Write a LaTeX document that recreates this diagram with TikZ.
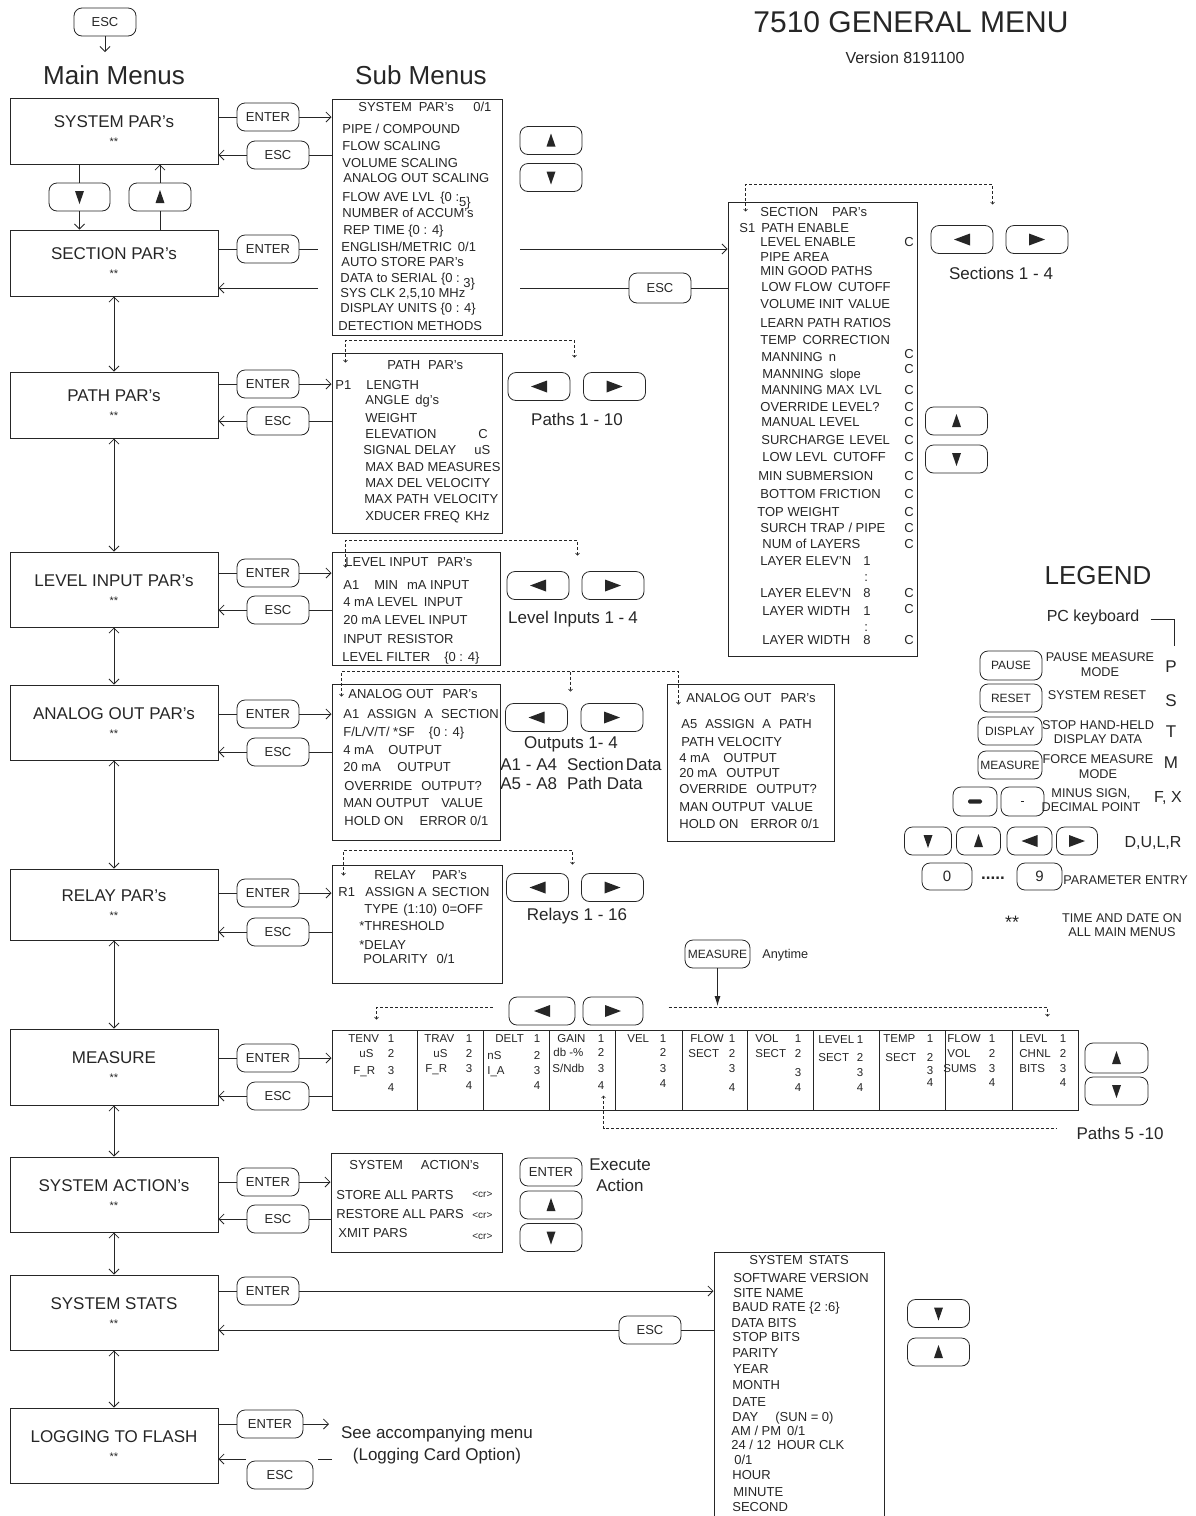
\documentclass[tikz,border=0pt]{standalone}
\usepackage{fontspec}
\setmainfont{Liberation Sans}
\usetikzlibrary{arrows.meta, positioning}

\newcommand\fntTitle{\fontsize{30}{34}\selectfont}
\newcommand\fntHead{\fontsize{26}{30}\selectfont}
\newcommand\fntMain{\fontsize{17}{18}\selectfont}
\newcommand\fntStar{\fontsize{11}{18}\selectfont}
\newcommand\fntKey{\fontsize{13}{15}\selectfont}
\newcommand\fntSub{\fontsize{13}{15}\selectfont}
\newcommand\fntCell{\fontsize{11.5}{14}\selectfont}
\newcommand\fntNote{\fontsize{17}{20}\selectfont}
\newcommand\fntLeg{\fontsize{12.7}{14.5}\selectfont}
\newcommand\fntLegKey{\fontsize{12}{14}\selectfont}
\newcommand\fntVer{\fontsize{16}{19}\selectfont}

\begin{document}
\begin{tikzpicture}[
        x=1pt, y=-1pt,
        line width=0.8pt,
        color=black!85,
        >={Straight Barb[length=5pt,width=10pt]},
        mainbox/.style={
            rectangle,
            draw,
            line width=1pt,
            minimum width=208pt,
            minimum height=66pt,
            align=center,
            font=\fntMain
        },
        subbox/.style={
            rectangle,
            draw,
            line width=1pt,
            inner sep=0pt
        },
        btn/.style={
            rectangle,
            rounded corners=8pt,
            draw,
            minimum width=62pt,
            minimum height=28pt,
            inner sep=0pt,
            font=\fntKey
        },
        upbtn/.style={btn, path picture={\fill[sharp corners, shift={(path picture bounding box.center)}] (0pt,7pt) -- (-4.5pt,-6pt) -- (4.5pt,-6pt) -- cycle;}},
        downbtn/.style={btn, path picture={\fill[sharp corners, shift={(path picture bounding box.center)}] (0pt,-7pt) -- (-4.5pt,6pt) -- (4.5pt,6pt) -- cycle;}},
        leftbtn/.style={btn, path picture={\fill[sharp corners, shift={(path picture bounding box.center)}] (-8pt,0pt) -- (8pt,6pt) -- (8pt,-6pt) -- cycle;}},
        rightbtn/.style={btn, path picture={\fill[sharp corners, shift={(path picture bounding box.center)}] (8pt,0pt) -- (-8pt,6pt) -- (-8pt,-6pt) -- cycle;}},
        item/.style={anchor=base west, inner sep=0pt, font=\fntSub, yshift=-4.5pt},
        cell/.style={anchor=base west, inner sep=0pt, font=\fntCell, yshift=-4pt},
        num/.style={anchor=base, inner sep=0pt, font=\fntCell, yshift=-4pt},
        note/.style={inner sep=0pt, font=\fntNote},
        legtext/.style={inner sep=0pt, align=center, font=\fntLeg},
        loopline/.style={
            line width=0.6pt,
            dash pattern=on 3pt off 2pt,
            >={Straight Barb[length=2pt,width=4pt]}
        }
    ]
    \useasboundingbox (0,0) rectangle (1195,1516);

    \node (title) [font=\fntTitle, inner sep=0pt] at (911,22) {7510 GENERAL MENU};
    \node (version) [font=\fntVer, inner sep=0pt] at (905,58) {Version 8191100};
    \node (main-head) [font=\fntHead, inner sep=0pt] at (114,75) {Main Menus};
    \node (sub-head) [font=\fntHead, inner sep=0pt] at (421,75) {Sub Menus};

    \node (top-esc) [btn] at (105,22) {ESC};
    \coordinate (top-drop) at (105,52);
    \draw [->] (top-esc) -- (top-drop);

    \node (sys-main) [mainbox] at (114,131) {SYSTEM PAR's\\\fntStar **};
    \node (sec-main) [mainbox] at (114,263) {SECTION PAR's\\\fntStar **};
    \node (path-main) [mainbox] at (114,405) {PATH PAR's\\\fntStar **};
    \node (lev-main) [mainbox, minimum height=75pt] at (114,589.5) {LEVEL INPUT PAR's\\\fntStar **};
    \node (ana-main) [mainbox, minimum height=75pt] at (114,722.5) {ANALOG OUT PAR's\\\fntStar **};
    \node (rel-main) [mainbox, minimum height=71pt] at (114,904.5) {RELAY PAR's\\\fntStar **};
    \node (mea-main) [mainbox, minimum height=76pt] at (114,1067) {MEASURE\\\fntStar **};
    \node (act-main) [mainbox, minimum height=75pt] at (114,1194.5) {SYSTEM ACTION's\\\fntStar **};
    \node (stat-main) [mainbox, minimum height=75pt] at (114,1312.5) {SYSTEM STATS\\\fntStar **};
    \node (log-main) [mainbox, minimum height=75pt] at (114,1445.5) {LOGGING TO FLASH\\\fntStar **};

    \node (dn-btn) [downbtn, minimum width=61pt] at (79.5,197) {};
    \node (up-btn) [upbtn] at (160,197) {};
    \draw (sys-main.south -| dn-btn) -- (dn-btn);
    \draw [->] (dn-btn) -- (sec-main.north -| dn-btn);
    \draw (sec-main.north -| up-btn) -- (up-btn);
    \draw [->] (up-btn) -- (sys-main.south -| up-btn);
    \foreach \ra/\rb in {sec/path, path/lev, lev/ana, ana/rel, rel/mea, mea/act, act/stat, stat/log}
        \draw [<->] (\ra-main) -- (\rb-main);

    \node (sys-sub) [subbox, minimum width=170pt, minimum height=236pt] at (417,217) {};
    \node (sec-sub) [subbox, minimum width=189pt, minimum height=454pt] at (822.5,429) {};
    \node (path-sub) [subbox, minimum width=170pt, minimum height=180pt] at (417,443) {};
    \node (lev-sub) [subbox, minimum width=168pt, minimum height=113pt] at (416,608.5) {};
    \node (ana-sub) [subbox, minimum width=168pt, minimum height=156pt] at (416,762) {};
    \node (ana2-sub) [subbox, minimum width=167pt, minimum height=157pt] at (750.5,762.5) {};
    \node (rel-sub) [subbox, minimum width=170pt, minimum height=118pt] at (417,924) {};
    \node (mea-sub) [subbox, minimum width=746pt, minimum height=80pt] at (705,1070) {};
    \node (act-sub) [subbox, minimum width=171pt, minimum height=99pt] at (416.5,1202.5) {};
    \node (stat-sub) [subbox, minimum width=170pt, minimum height=268pt] at (799,1386) {};

    \foreach \row/\ya/\yb in {sys/117/155, path/384/421, lev/573/610, ana/714/752, rel/893/932, mea/1058/1096, act/1182/1219} {
        \node (\row-ent) [btn] at (268,\ya) {ENTER};
        \node (\row-esc) [btn] at (278,\yb) {ESC};
    }
    \node (sec-ent) [btn] at (268,249) {ENTER};
    \node (sec-esc) [btn, minimum height=30pt] at (660,288) {ESC};
    \node (stat-ent) [btn] at (268,1291) {ENTER};
    \node (stat-esc) [btn] at (650,1330) {ESC};
    \node (log-ent) [btn, minimum width=66pt] at (270,1424) {ENTER};
    \node (log-esc) [btn, minimum width=66pt] at (280,1475) {ESC};

    \foreach \row in {sys, path, lev, ana, rel, mea, act, stat} {
        \draw (\row-main.east |- \row-ent) -- (\row-ent);
        \draw [->] (\row-ent) -- (\row-sub.west |- \row-ent);
        \draw [->] (\row-esc) -- (\row-main.east |- \row-esc);
        \draw (\row-sub.west |- \row-esc) -- (\row-esc);
    }

    \coordinate (sec-go) at (520,249);
    \coordinate (sec-back) at (520,288);
    \coordinate (sec-ret) at (318,288);
    \draw (sec-main.east |- sec-ent) -- (sec-ent);
    \draw (sec-ent.east) -- ++(19,0);
    \draw [->] (sec-go) -- (sec-sub.west |- sec-go);
    \draw (sec-sub.west |- sec-esc) -- (sec-esc);
    \draw (sec-esc) -- (sec-back);
    \draw [->] (sec-ret) -- (sec-main.east |- sec-ret);

    \coordinate (log-to) at (329,1424);
    \coordinate (log-from) at (332,1459);
    \coordinate (log-back) at (246,1459);
    \draw (log-main.east |- log-ent) -- (log-ent);
    \draw [->] (log-ent) -- (log-to);
    \draw (log-from) -- ++(-14,0);
    \draw [->] (log-back) -- (log-main.east |- log-back);
    \node (log-note1) [note] at (437,1434) {See accompanying menu};
    \node (log-note2) [note] at (437,1456) {(Logging Card Option)};

    \foreach \x/\y/\lbl [count=\i] in {358/107/{SYSTEM\hspace{7pt}PAR's}, 473/107/{0/1},
        342/129/{PIPE / COMPOUND}, 342/146/{FLOW SCALING}, 342/163/{VOLUME SCALING},
        343/178/{ANALOG OUT SCALING}, 342/197/{FLOW AVE LVL\hspace{6pt}\{0 :\raisebox{-5pt}{5\}}},
        342/213/{NUMBER of ACCUM's}, 343/230/{REP TIME \{0 : 4\}}, 341/247/{ENGLISH/METRIC\hspace{6pt}0/1},
        341/262/{AUTO STORE PAR's}, 340/278/{DATA to SERIAL \{0 :\raisebox{-5pt}{ 3\}}},
        340/293/{SYS CLK 2,5,10 MHz}, 340/308/{DISPLAY UNITS \{0 : 4\}}, 338/326/{DETECTION METHODS}}
        \node [item] (sys-l\i) at (\x,\y) {\lbl};
    \node (sys-up) [upbtn] at (551,140.5) {};
    \node (sys-dn) [downbtn] at (551,177.5) {};

    \foreach \x/\y/\lbl [count=\i] in {760/212/{SECTION\hspace{14pt}PAR's}, 739/228/{S1\hspace{6pt}PATH ENABLE},
        760/242/{LEVEL ENABLE}, 760/257/{PIPE AREA}, 760/271/{MIN GOOD PATHS},
        761/287/{LOW FLOW\hspace{6pt}CUTOFF}, 760/304/{VOLUME INIT\hspace{5pt}VALUE},
        760/323/{LEARN PATH RATIOS}, 760/340/{TEMP\hspace{6pt}CORRECTION}, 761/357/{MANNING\hspace{6pt}n},
        762/374/{MANNING\hspace{6pt}slope}, 761/390/{MANNING MAX\hspace{5pt}LVL}, 760/407/{OVERRIDE LEVEL?},
        761/422/{MANUAL LEVEL}, 761/440/{SURCHARGE\hspace{5pt}LEVEL}, 762/457/{LOW LEVL\hspace{6pt}CUTOFF},
        758/476/{MIN SUBMERSION}, 760/494/{BOTTOM FRICTION}, 757/512/{TOP WEIGHT},
        760/528/{SURCH TRAP / PIPE}, 762/544/{NUM of LAYERS},
        760/561/{LAYER ELEV'N}, 863/561/{1}, 864/577/{:}, 760/593/{LAYER ELEV'N}, 863/593/{8},
        762/611/{LAYER WIDTH}, 863/611/{1}, 864/627/{:}, 762/640/{LAYER WIDTH}, 863/640/{8}}
        \node [item] (sec-l\i) at (\x,\y) {\lbl};
    \foreach \y [count=\i] in {242,354,369,390,407,422,440,457,476,494,512,528,544,593,609,640}
        \node [item] (sec-c\i) at (904,\y) {C};
    \node (sec-lft) [leftbtn] at (962,239.5) {};
    \node (sec-rgt) [rightbtn] at (1037,239.5) {};
    \node (sec-note) [note] at (1001,273) {Sections 1 - 4};
    \node (sec-up) [upbtn] at (956.5,421) {};
    \node (sec-dn) [downbtn] at (956.5,459) {};
    \draw [loopline, <->] ([shift={(18,10)}]sec-sub.north west) -- ++(0,-27) -| ++(247,20);

    \foreach \x/\y/\lbl [count=\i] in {387/365/{PATH\hspace{8pt}PAR's}, 335/385/{P1}, 366/385/{LENGTH},
        365/400/{ANGLE\hspace{6pt}dg's}, 365/418/{WEIGHT}, 365/434/{ELEVATION}, 478/434/{C},
        363/450/{SIGNAL DELAY}, 474/450/{uS}, 365/467/{MAX BAD MEASURES}, 365/483/{MAX DEL VELOCITY},
        364/499/{MAX PATH\hspace{5pt}VELOCITY}, 365/516/{XDUCER FREQ\hspace{5pt}KHz}}
        \node [item] (path-l\i) at (\x,\y) {\lbl};
    \node (path-lft) [leftbtn] at (539,386.5) {};
    \node (path-rgt) [rightbtn] at (614.5,386.5) {};
    \node (path-note) [note] at (577,419) {Paths 1 - 10};
    \draw [loopline, <->] ([shift={(14,10)}]path-sub.north west) -- ++(0,-22) -| ++(229,17);

    \foreach \x/\y/\lbl [count=\i] in {345/562/{LEVEL INPUT\hspace{9pt}PAR's},
        343/585/{A1\hspace{15pt}MIN\hspace{9pt}mA INPUT}, 343/602/{4 mA LEVEL\hspace{6pt}INPUT},
        343/620/{20 mA LEVEL INPUT}, 343/639/{INPUT\hspace{5pt}RESISTOR},
        342/657/{LEVEL FILTER\hspace{14pt}\{0 : 4\}}}
        \node [item] (lev-l\i) at (\x,\y) {\lbl};
    \node (lev-lft) [leftbtn] at (538,585.5) {};
    \node (lev-rgt) [rightbtn] at (613,585.5) {};
    \node (lev-note) [note] at (573,619) {Level Inputs 1 -\hspace{4pt}4};
    \draw [loopline, <->] ([shift={(14,16)}]lev-sub.north west) -- ++(0,-27) -| ++(232,15);

    \foreach \x/\y/\lbl [count=\i] in {348/694/{ANALOG OUT\hspace{9pt}PAR's},
        343/714/{A1\hspace{8pt}ASSIGN\hspace{8pt}A\hspace{8pt}SECTION}, 343/732/{F/L/V/T/ *SF\hspace{14pt}\{0 : 4\}},
        343/750/{4 mA}, 388/750/{OUTPUT}, 343/767/{20 mA}, 397/767/{OUTPUT},
        344/786/{OVERRIDE\hspace{9pt}OUTPUT?}, 343/803/{MAN OUTPUT\hspace{12pt}VALUE},
        344/821/{HOLD ON\hspace{16pt}ERROR 0/1}}
        \node [item] (ana-l\i) at (\x,\y) {\lbl};
    \foreach \x/\y/\lbl [count=\i] in {686/698/{ANALOG OUT\hspace{9pt}PAR's},
        681/724/{A5\hspace{8pt}ASSIGN\hspace{8pt}A\hspace{8pt}PATH}, 681/742/{PATH VELOCITY},
        679/758/{4 mA}, 723/758/{OUTPUT}, 679/773/{20 mA}, 726/773/{OUTPUT},
        679/789/{OVERRIDE\hspace{9pt}OUTPUT?}, 679/807/{MAN OUTPUT\hspace{6pt}VALUE},
        679/824/{HOLD ON\hspace{12pt}ERROR 0/1}}
        \node [item] (ana2-l\i) at (\x,\y) {\lbl};
    \node (ana-lft) [leftbtn] at (536.5,717.5) {};
    \node (ana-rgt) [rightbtn] at (612,717.5) {};
    \node (ana-note) [note] at (571,744) {Outputs 1- 4};
    \node (ana-sect) [note, anchor=base west, yshift=-6pt] at (500,764) {A1 - A4\hspace{10pt}Section\hspace{2pt}Data};
    \node (ana-path) [note, anchor=base west, yshift=-6pt] at (500,783) {A5 - A8\hspace{10pt}Path Data};
    \draw [loopline, <->] ([shift={(10,13)}]ana-sub.north west) -- ++(0,-25) -| ++(337,33);
    \draw [loopline, ->] ([shift={(239,-12)}]ana-sub.north west) -- ++(0,20);

    \foreach \x/\y/\lbl [count=\i] in {374/875/{RELAY\hspace{16pt}PAR's}, 338/892/{R1},
        365/892/{ASSIGN A\hspace{5pt}SECTION}, 364/909/{TYPE\hspace{5pt}(1:10)\hspace{5pt}0=OFF},
        359/926/{*THRESHOLD}, 359/945/{*DELAY}, 363/959/{POLARITY\hspace{9pt}0/1}}
        \node [item] (rel-l\i) at (\x,\y) {\lbl};
    \node (rel-lft) [leftbtn] at (537.5,887.5) {};
    \node (rel-rgt) [rightbtn] at (612.5,887.5) {};
    \node (rel-note) [note] at (577,916) {Relays 1 - 16};
    \draw [loopline, <->] ([shift={(12,11)}]rel-sub.north west) -- ++(0,-25) -| ++(229,14);

    \node (mea-key) [btn, minimum width=65pt, font=\fntLegKey] at (717.5,954) {MEASURE};
    \node (mea-any) [anchor=west, inner sep=0pt, font=\fntLeg] at (762,955) {Anytime};
    \coordinate (mea-drop) at (717.5,1006);
    \draw [-{Latex[length=10pt,width=6pt]}] (mea-key) -- (mea-drop);
    \node (mea-lft) [leftbtn, minimum width=66pt] at (542,1011) {};
    \node (mea-rgt) [rightbtn, minimum width=60pt] at (613,1011) {};
    \node (mea-up) [upbtn, minimum width=63pt, minimum height=30pt] at (1116.5,1058) {};
    \node (mea-dn) [downbtn, minimum width=63pt] at (1116.5,1091) {};
    \node (mea-note) [note] at (1120,1133) {Paths 5 -10};
    \foreach \x in {417,483,549,615,682,747,813,879,945,1012}
        \draw [line width=1pt] (\x,1030) -- (\x,1110);
    \foreach \x/\y/\lbl [count=\i] in {348/1038/TENV, 359/1053/uS, 353/1070/{F\_R},
        424/1038/TRAV, 433/1053/uS, 425/1068/{F\_R},
        495/1038/DELT, 487/1055/nS, 487/1070/{I\_A},
        557/1038/GAIN, 553/1052/{db -\%}, 552/1068/{S/Ndb},
        627/1038/VEL, 690/1038/FLOW, 688/1053/SECT,
        755/1038/VOL, 755/1053/SECT, 818/1039/LEVEL, 818/1057/SECT,
        883/1038/TEMP, 885/1057/SECT, 947/1038/FLOW, 947/1053/VOL, 943/1068/SUMS,
        1019/1038/LEVL, 1019/1053/CHNL, 1019/1068/BITS}
        \node [cell] (mea-l\i) at (\x,\y) {\lbl};
    \foreach \x/\ya/\yb/\yc/\yd [count=\i] in {391/1038/1053/1070/1087, 469/1038/1053/1068/1085,
        537/1038/1055/1070/1085, 601/1038/1052/1068/1085, 663/1038/1052/1068/1083,
        732/1038/1053/1068/1087, 798/1038/1053/1072/1087, 860/1039/1057/1072/1087,
        930/1038/1057/1070/1082, 992/1038/1053/1068/1082, 1063/1038/1053/1068/1082} {
        \node [num] (mea-n\i-1) at (\x,\ya) {1};
        \node [num] (mea-n\i-2) at (\x,\yb) {2};
        \node [num] (mea-n\i-3) at (\x,\yc) {3};
        \node [num] (mea-n\i-4) at (\x,\yd) {4};
    }
    \draw [loopline, <-] ([shift={(45,-10)}]mea-sub.north west) -- ++(0,-12) -- ++(118,0);
    \draw [loopline, ->] ([shift={(-410,-22)}]mea-sub.north east) -- ++(379,0) -- ++(0,9);
    \draw [loopline, <-] ([shift={(272,-15)}]mea-sub.south west) -- ++(0,33) -- ++(453,0);

    \foreach \x/\y/\lbl [count=\i] in {349/1165/{SYSTEM\hspace{18pt}ACTION's},
        336/1195/{STORE ALL PARTS}, 336/1214/{RESTORE ALL PARS}, 338/1233/{XMIT PARS}}
        \node [item] (act-l\i) at (\x,\y) {\lbl};
    \foreach \y [count=\i] in {1193,1214,1235}
        \node [item, font=\fontsize{10}{12}\selectfont] (act-cr\i) at (472,\y) {<cr>};
    \node (act-go) [btn] at (551,1172) {ENTER};
    \node (act-up) [upbtn] at (551,1205) {};
    \node (act-dn) [downbtn] at (551,1237.5) {};
    \node (act-note) [note, align=center, font=\fontsize{17}{21}\selectfont] at (620,1175) {Execute\\Action};

    \foreach \x/\y/\lbl [count=\i] in {749/1260/{SYSTEM\hspace{6pt}STATS}, 733/1278/{SOFTWARE VERSION},
        733/1293/{SITE NAME}, 732/1307/{BAUD RATE \{2 :6\}}, 731/1323/{DATA BITS}, 732/1337/{STOP BITS},
        732/1353/{PARITY}, 733/1369/{YEAR}, 732/1385/{MONTH}, 732/1402/{DATE}, 732/1417/{DAY},
        775/1417/{(SUN = 0)}, 731/1431/{AM / PM\hspace{6pt}0/1}, 731/1445/{24 / 12\hspace{6pt}HOUR CLK},
        734/1460/{0/1}, 732/1475/{HOUR}, 733/1492/{MINUTE}, 732/1507/{SECOND}}
        \node [item] (stat-l\i) at (\x,\y) {\lbl};
    \node (stat-dn) [downbtn] at (938.5,1313.5) {};
    \node (stat-up) [upbtn] at (938.5,1352) {};

    \node (leg-title) [font=\fntHead, inner sep=0pt] at (1098,576) {LEGEND};
    \node (leg-pc) [note, font=\fontsize{16}{19}\selectfont] at (1093,617) {PC keyboard};
    \draw (leg-pc.east) ++(11,2) -- ++(24,0) -- ++(0,27);
    \node (leg-pause) [btn, font=\fntLegKey, minimum height=29pt] at (1011,665.5) {PAUSE};
    \node (leg-reset) [btn, font=\fntLegKey] at (1011,698) {RESET};
    \node (leg-disp) [btn, font=\fntLegKey, minimum width=64pt] at (1010,731) {DISPLAY};
    \node (leg-meas) [btn, font=\fntLegKey, minimum width=64pt] at (1010,765) {MEASURE};
    \node (leg-d1) [legtext] at (1100,664.5) {PAUSE MEASURE\\MODE};
    \node (leg-d2) [legtext] at (1097,695) {SYSTEM RESET};
    \node (leg-d3) [legtext] at (1098,732) {STOP HAND-HELD\\DISPLAY DATA};
    \node (leg-d4) [legtext] at (1098,766.5) {FORCE MEASURE\\MODE};
    \node (leg-d5) [legtext] at (1091,800) {MINUS SIGN,\\DECIMAL POINT};
    \node (leg-p) [note] at (1171,667) {P};
    \node (leg-s) [note] at (1171,701) {S};
    \node (leg-t) [note] at (1171,732) {T};
    \node (leg-m) [note] at (1171,763) {M};
    \node (leg-fx) [note, font=\fontsize{16}{19}\selectfont] at (1168,798) {F, X};
    \node (leg-minus) [btn, minimum width=44pt, minimum height=29pt,
        path picture={\fill[rounded corners=1.5pt, shift={(path picture bounding box.center)}] (-7pt,-2.2pt) rectangle (7pt,2.2pt);}] at (975,801.5) {};
    \node (leg-dot) [btn, minimum width=43pt, minimum height=29pt,
        path picture={\draw[sharp corners, line width=0.6pt, shift={(path picture bounding box.center)}] (-1.5pt,0pt) -- (1.5pt,0pt);}] at (1022.5,801.5) {};
    \node (leg-dn) [downbtn, minimum width=47pt] at (928,841) {};
    \node (leg-up) [upbtn, minimum width=44pt] at (978.5,841) {};
    \node (leg-lft) [leftbtn, minimum width=45pt] at (1029.5,841) {};
    \node (leg-rgt) [rightbtn, minimum width=41pt] at (1077,841) {};
    \node (leg-dulr) [note, font=\fontsize{16}{19}\selectfont] at (1153,843) {D,U,L,R};
    \node (leg-0) [btn, minimum width=50pt, minimum height=27pt, font=\fontsize{15}{17}\selectfont] at (947,876.5) {0};
    \node (leg-dots) [note] at (993,878) {\textbf{.....}};
    \node (leg-9) [btn, minimum width=45pt, minimum height=27pt, font=\fontsize{15}{17}\selectfont] at (1039.5,876.5) {9};
    \node (leg-param) [anchor=west, inner sep=0pt, font=\fntLeg] at (1063,880) {PARAMETER ENTRY};
    \node (leg-star) [inner sep=0pt, font=\fontsize{18}{20}\selectfont] at (1012,922) {**};
    \node (leg-time) [legtext] at (1122,925) {TIME AND DATE ON\\ALL MAIN MENUS};

\end{tikzpicture}
\end{document}
